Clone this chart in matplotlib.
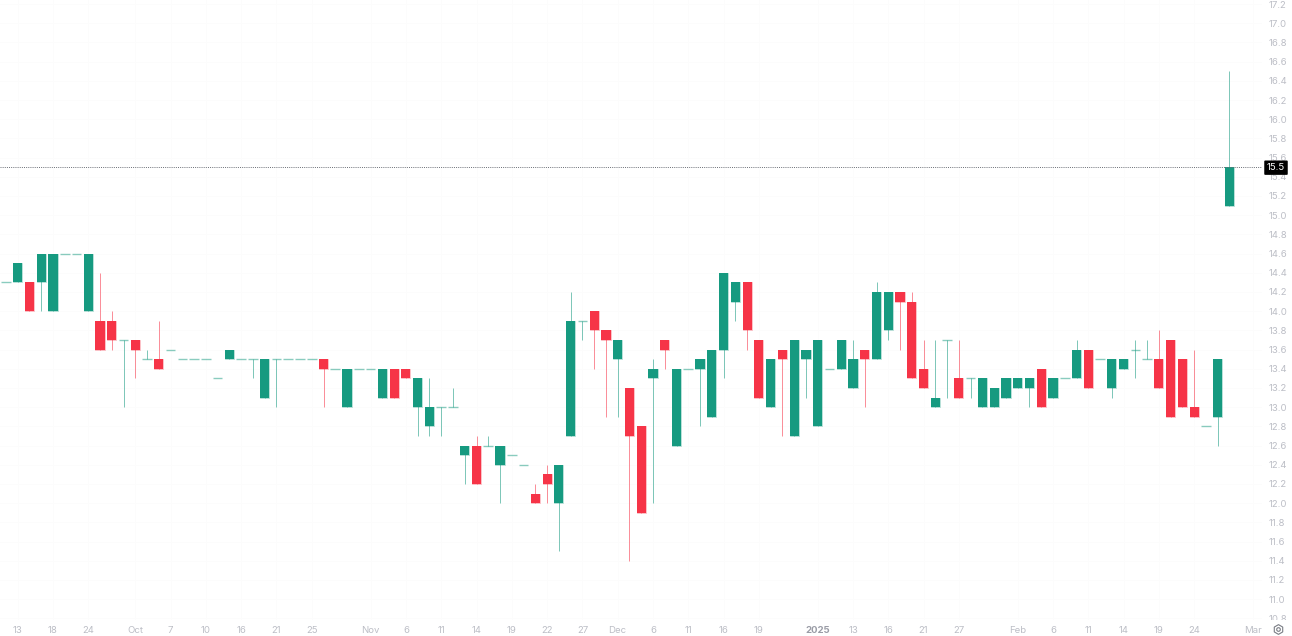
import matplotlib
matplotlib.use("Agg")
import matplotlib.pyplot as plt
import numpy as np
from matplotlib.transforms import Bbox, IdentityTransform, TransformedBbox, blended_transform_factory

plt.rcParams['font.family'] = ['Inter', 'DejaVu Sans']

opens = [14.3,14.3,14.3,14.3,14.0,14.6,14.6,14.0,13.9,13.9,
         13.7,13.7,13.5,13.5,13.6,13.5,13.5,13.5,13.3,13.5,
         13.5,13.5,13.1,13.5,13.5,13.5,13.5,13.5,13.4,13.0,
         13.4,13.4,13.1,13.4,13.4,13.0,12.8,13.0,13.0,12.5,
         12.6,12.6,12.4,12.5,12.4,12.1,12.3,12.0,12.7,13.9,
         14.0,13.8,13.5,13.2,12.8,13.3,13.7,12.6,13.4,13.4,
         12.9,13.6,14.1,14.3,13.7,13.0,13.6,12.7,13.5,12.8,
         13.4,13.4,13.2,13.6,13.5,13.8,14.2,14.1,13.4,13.0,
         13.7,13.3,13.3,13.0,13.0,13.1,13.2,13.2,13.4,13.1,
         13.3,13.3,13.6,13.5,13.2,13.4,13.6,13.5,13.5,13.7,
         13.5,13.0,12.8,12.9,15.1]
closes = [14.3,14.5,14.0,14.6,14.6,14.6,14.6,14.6,13.6,13.7,
          13.7,13.6,13.5,13.4,13.6,13.5,13.5,13.5,13.3,13.6,
          13.5,13.5,13.5,13.5,13.5,13.5,13.5,13.4,13.4,13.4,
          13.4,13.4,13.4,13.1,13.3,13.3,13.0,13.0,13.0,12.6,
          12.2,12.6,12.6,12.5,12.4,12.0,12.2,12.4,13.9,13.9,
          13.8,13.7,13.7,12.7,11.9,13.4,13.6,13.4,13.4,13.5,
          13.6,14.4,14.3,13.8,13.1,13.5,13.5,13.7,13.6,13.7,
          13.4,13.7,13.5,13.5,14.2,14.2,14.1,13.3,13.2,13.1,
          13.7,13.1,13.3,13.3,13.2,13.3,13.3,13.3,13.0,13.3,
          13.3,13.6,13.2,13.5,13.5,13.5,13.6,13.5,13.2,12.9,
          13.0,12.9,12.8,13.5,15.5]
highs = [14.3,14.5,14.3,14.6,14.6,14.6,14.6,14.6,14.4,14.0,
         13.7,13.7,13.6,13.9,13.6,13.5,13.5,13.5,13.3,13.6,
         13.5,13.5,13.5,13.5,13.5,13.5,13.5,13.5,13.4,13.4,
         13.4,13.4,13.4,13.4,13.4,13.3,13.3,13.0,13.2,12.6,
         12.7,12.7,12.6,12.5,12.4,12.2,12.4,12.4,14.2,13.9,
         14.0,13.8,13.7,13.2,12.8,13.5,13.7,13.4,13.4,13.5,
         13.6,14.4,14.3,14.3,13.7,13.5,13.6,13.7,13.6,13.7,
         13.4,13.7,13.7,13.6,14.3,14.2,14.2,14.2,13.7,13.7,
         13.7,13.7,13.3,13.3,13.2,13.3,13.3,13.3,13.4,13.3,
         13.3,13.7,13.6,13.5,13.5,13.5,13.7,13.7,13.8,13.7,
         13.5,13.6,12.8,13.5,16.5]
lows = [14.3,14.3,14.0,14.0,14.0,14.6,14.6,14.0,13.6,13.6,
        13.0,13.3,13.5,13.4,13.6,13.5,13.5,13.5,13.3,13.5,
        13.5,13.3,13.1,13.0,13.5,13.5,13.5,13.0,13.4,13.0,
        13.4,13.4,13.1,13.1,13.3,12.7,12.7,12.7,13.0,12.2,
        12.2,12.6,12.0,12.5,12.4,12.0,12.0,11.5,12.7,13.7,
        13.4,12.9,12.9,11.4,11.9,12.0,13.4,12.6,13.4,12.8,
        12.9,13.3,13.9,13.6,13.1,13.0,12.7,12.7,13.1,12.8,
        13.4,13.4,13.2,13.0,13.5,13.7,13.6,13.3,13.2,13.0,
        13.1,13.1,13.1,13.0,13.0,13.1,13.2,13.0,13.0,13.1,
        13.3,13.3,13.2,13.5,13.1,13.4,13.3,13.5,13.2,12.9,
        13.0,12.9,12.8,12.6,15.1]

x_tick_idx = [1,4,7,11,14,17,20,23,26,31,34,37,40,43,46,49,52,55,58,61,64,69,72,75,78,81,86,89,92,95,98,101,106]
x_tick_labels = ['13','18','24','Oct','7','10','16','21','25','Nov','6','11','14','19','22','27','Dec',
                 '6','11','16','19','2025','13','16','21','27','Feb','6','11','14','19','24','Mar']
y_ticks = [round(10.8 + 0.2 * k, 1) for k in range(33)]
last_price = 15.5

GREEN = '#169a80'
RED = '#f63447'
LABEL = '#bcbec6'

W, H = 1292, 636
fig = plt.figure(figsize=(W / 100, H / 100), dpi=100, facecolor='white')
ax = fig.add_axes([0, 16 / H, 1262 / W, 620 / H])
ax.set_facecolor('white')

o, c, hi, lo = map(np.array, (opens, closes, highs, lows))
idx = np.arange(len(o))
px = 0.72
body_w = 0.78
is_doji = o == c
is_up = c > o
colors = np.where(is_up | is_doji, GREEN, RED)

# wicks
for i in idx:
    if hi[i] > lo[i]:
        ax.vlines(i, lo[i], hi[i], color=colors[i], alpha=0.55, lw=px, zorder=2)
# bodies
solid = ~is_doji
ax.bar(idx[solid], np.abs(c - o)[solid], bottom=np.minimum(o, c)[solid], width=body_w,
       color=colors[solid], zorder=3, linewidth=0)
ax.bar(idx[solid], np.abs(c - o)[solid], bottom=np.minimum(o, c)[solid], width=body_w,
       facecolor='none', edgecolor=[matplotlib.colors.to_rgba(col, 0.3) for col in colors[solid]],
       zorder=4, linewidth=px)
# doji dashes
ax.hlines(o[is_doji], idx[is_doji] - 0.41, idx[is_doji] + 0.41, color=GREEN, alpha=0.5, lw=1.0, zorder=3)

ax.set_xlim((0 - 5.9) / 11.765, (1262 - 5.9) / 11.765)
ax.set_ylim(17.2 - (620 - 4) / 96, 17.2 + 4 / 96)

ax.axhline(last_price, color='#6a6e75', lw=0.7, ls=(0, (1, 1.2)), zorder=5)

ax.set_xticks(x_tick_idx)
ax.set_xticklabels(x_tick_labels)
ax.yaxis.tick_right()
ax.set_yticks(y_ticks)
ax.set_yticklabels([f'{v:.1f}' for v in y_ticks])
ax.tick_params(axis='both', length=0, labelcolor=LABEL, labelsize=6.9)
ax.tick_params(axis='x', pad=4.5)
ax.tick_params(axis='y', pad=5)
ax.grid(True, color='#fcfcfc', lw=0.7, zorder=0)
ax.set_axisbelow(True)
for s in ax.spines.values():
    s.set_visible(False)

clip = TransformedBbox(Bbox([[1262, 16], [W, H]]), IdentityTransform())
for lab in ax.get_yticklabels():
    lab.set_clip_on(True)
    lab.set_clip_box(clip)
for lab in ax.get_xticklabels():
    if lab.get_text() == '2025':
        lab.set_fontweight('bold')
        lab.set_color('#9a9ca6')

# last-price tag
tr = blended_transform_factory(IdentityTransform(), ax.transData)
ax.text(1276, last_price - 0.005, f'{last_price:.1f}', transform=tr, ha='center', va='center', color='white',
        fontsize=6.9, zorder=10, clip_on=False,
        bbox=dict(boxstyle='round,pad=0.28,rounding_size=0.1', fc='black', ec='none'))

# settings icon
fig.add_artist(plt.Line2D([1278 / W], [(H - 629) / H], transform=fig.transFigure, marker='h', ms=7,
                          mfc='none', mec='#7a7d85', mew=0.8, ls='none'))
fig.add_artist(plt.Line2D([1278 / W], [(H - 629) / H], transform=fig.transFigure, marker='o', ms=2.6,
                          mfc='none', mec='#7a7d85', mew=0.8, ls='none'))

fig.savefig('out.png', dpi=100, facecolor='white')
